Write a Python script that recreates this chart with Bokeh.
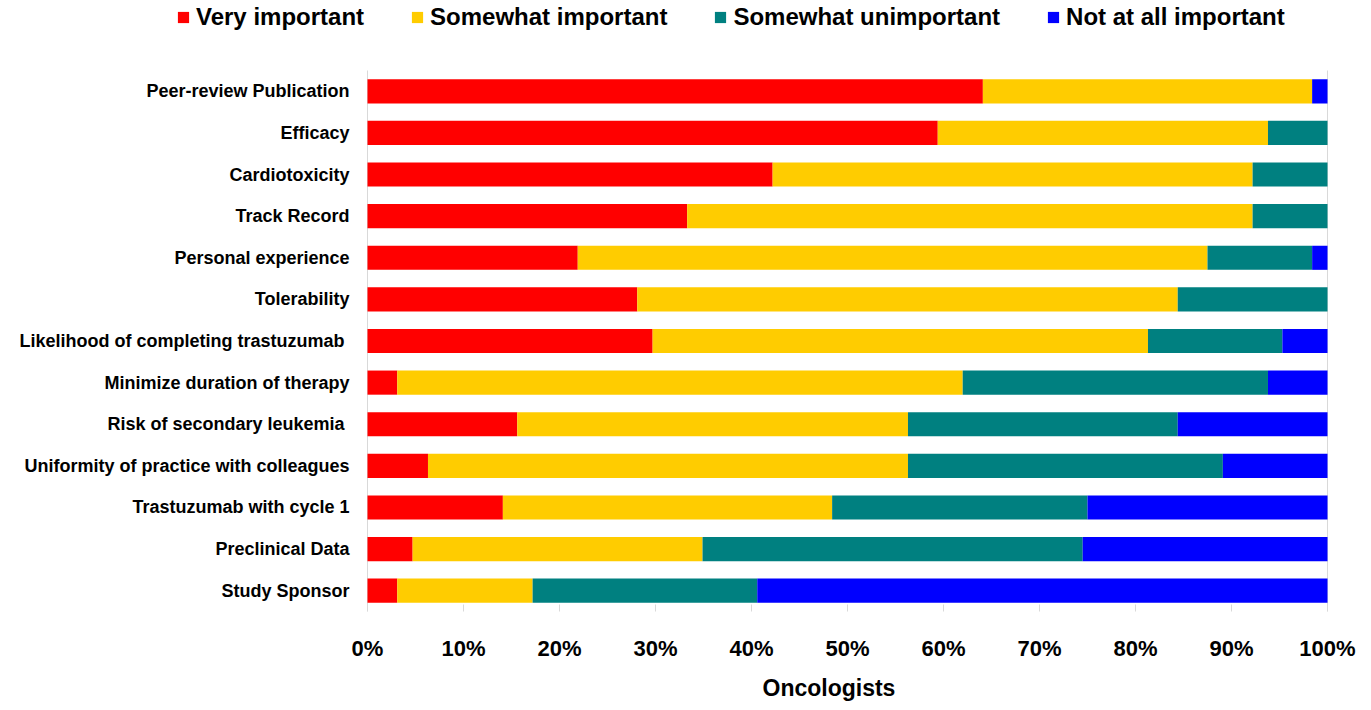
from bokeh.plotting import figure
from bokeh.models import (Range1d, FixedTicker, PrintfTickFormatter,
                          Legend, LegendItem, ColumnDataSource, Title)
from bokeh.core.properties import value
from bokeh.embed import file_html
from bokeh.resources import INLINE

categories = [
    "Peer-review Publication",
    "Efficacy",
    "Cardiotoxicity",
    "Track Record",
    "Personal experience",
    "Tolerability",
    "Likelihood of completing trastuzumab ",
    "Minimize duration of therapy",
    "Risk of secondary leukemia ",
    "Uniformity of practice with colleagues",
    "Trastuzumab with cycle 1",
    "Preclinical Data",
    "Study Sponsor",
]
very_important = [64.1, 59.4, 42.2, 33.3, 21.9, 28.1, 29.7, 3.1, 15.6, 6.3, 14.1, 4.7, 3.1]
somewhat_important = [34.3, 34.4, 50.0, 58.9, 65.6, 56.3, 51.6, 58.9, 40.7, 50.0, 34.3, 30.2, 14.1]
somewhat_unimportant = [0.0, 6.2, 7.8, 7.8, 10.9, 15.6, 14.0, 31.8, 28.1, 32.8, 26.6, 39.6, 23.4]
not_at_all_important = [1.6, 0.0, 0.0, 0.0, 1.6, 0.0, 4.7, 6.2, 15.6, 10.9, 25.0, 25.5, 59.4]

series_names = ["Very important", "Somewhat important", "Somewhat unimportant", "Not at all important"]
series_keys = ["very", "somewhat", "unimp", "notatall"]
colors = ["#FF0000", "#FFCC00", "#008080", "#0000FF"]
x_ticks = [0, 10, 20, 30, 40, 50, 60, 70, 80, 90, 100]
x_title = "Oncologists"

font = "Liberation Sans"

# layout (pixels)
W, H = 1371, 710
bottom_border = 99
plot_left_px, plot_right_px = 367, 1327
plot_top_px = 70
frame_h = H - bottom_border
n = len(categories)
px_per_unit = (plot_right_px - plot_left_px) / 100.0
band_px = (frame_h - plot_top_px) / n

ypos = [n - 1 - i for i in range(n)]
src = ColumnDataSource(dict(cat=categories, ypos=ypos, very=very_important,
                            somewhat=somewhat_important, unimp=somewhat_unimportant,
                            notatall=not_at_all_important))

x_start = -plot_left_px / px_per_unit
x_end = 100 + (W - plot_right_px) / px_per_unit
y_start = -0.5
y_end = -0.5 + frame_h / band_px

p = figure(width=W, height=H,
           x_range=Range1d(x_start, x_end), y_range=Range1d(y_start, y_end),
           output_backend="svg", toolbar_location=None,
           min_border_left=0, min_border_right=0, min_border_top=0,
           min_border_bottom=bottom_border)
p.outline_line_color = None
p.grid.visible = False
p.yaxis.visible = False

# faint left axis line and right edge line
p.segment(x0=[0, 100], y0=[y_start, y_start], x1=[0, 100], y1=[n - 0.5, n - 0.5],
          line_color="#d9d9d9", line_width=1)

rs = p.hbar_stack(series_keys, y="ypos", height=0.58, color=colors, source=src, line_width=0)

# category labels
p.text(x=0, y="ypos", text="cat", source=src, x_offset=-18,
       text_align="right", text_baseline="middle",
       text_font=value(font), text_font_style="bold", text_font_size="18px",
       text_color="black")

xa = p.xaxis[0]
xa.ticker = FixedTicker(ticks=x_ticks)
xa.formatter = PrintfTickFormatter(format="%d%%")
xa.axis_line_color = None
xa.major_tick_line_color = "#d9d9d9"
xa.major_tick_in = 7
xa.major_tick_out = 0
xa.minor_tick_line_color = None
xa.major_label_text_font = font
xa.major_label_text_font_style = "bold"
xa.major_label_text_font_size = "22px"
xa.major_label_text_color = "black"
xa.major_label_standoff = 24

t = Title(text=x_title, align="left", offset=762,
          text_font=font, text_font_style="bold", text_font_size="23px",
          text_color="black", standoff=18)
p.add_layout(t, "below")

legend = Legend(items=[LegendItem(label=nm, renderers=[r]) for nm, r in zip(series_names, rs)],
                orientation="horizontal", location=(176, frame_h - 31),
                label_text_font=font, label_text_font_style="bold",
                label_text_font_size="24px", label_text_color="black",
                glyph_width=14, glyph_height=14, label_standoff=6, spacing=46,
                padding=0, margin=0, border_line_color=None, background_fill_alpha=0)
p.add_layout(legend, "center")

open("out.html", "w").write(file_html(p, INLINE))
